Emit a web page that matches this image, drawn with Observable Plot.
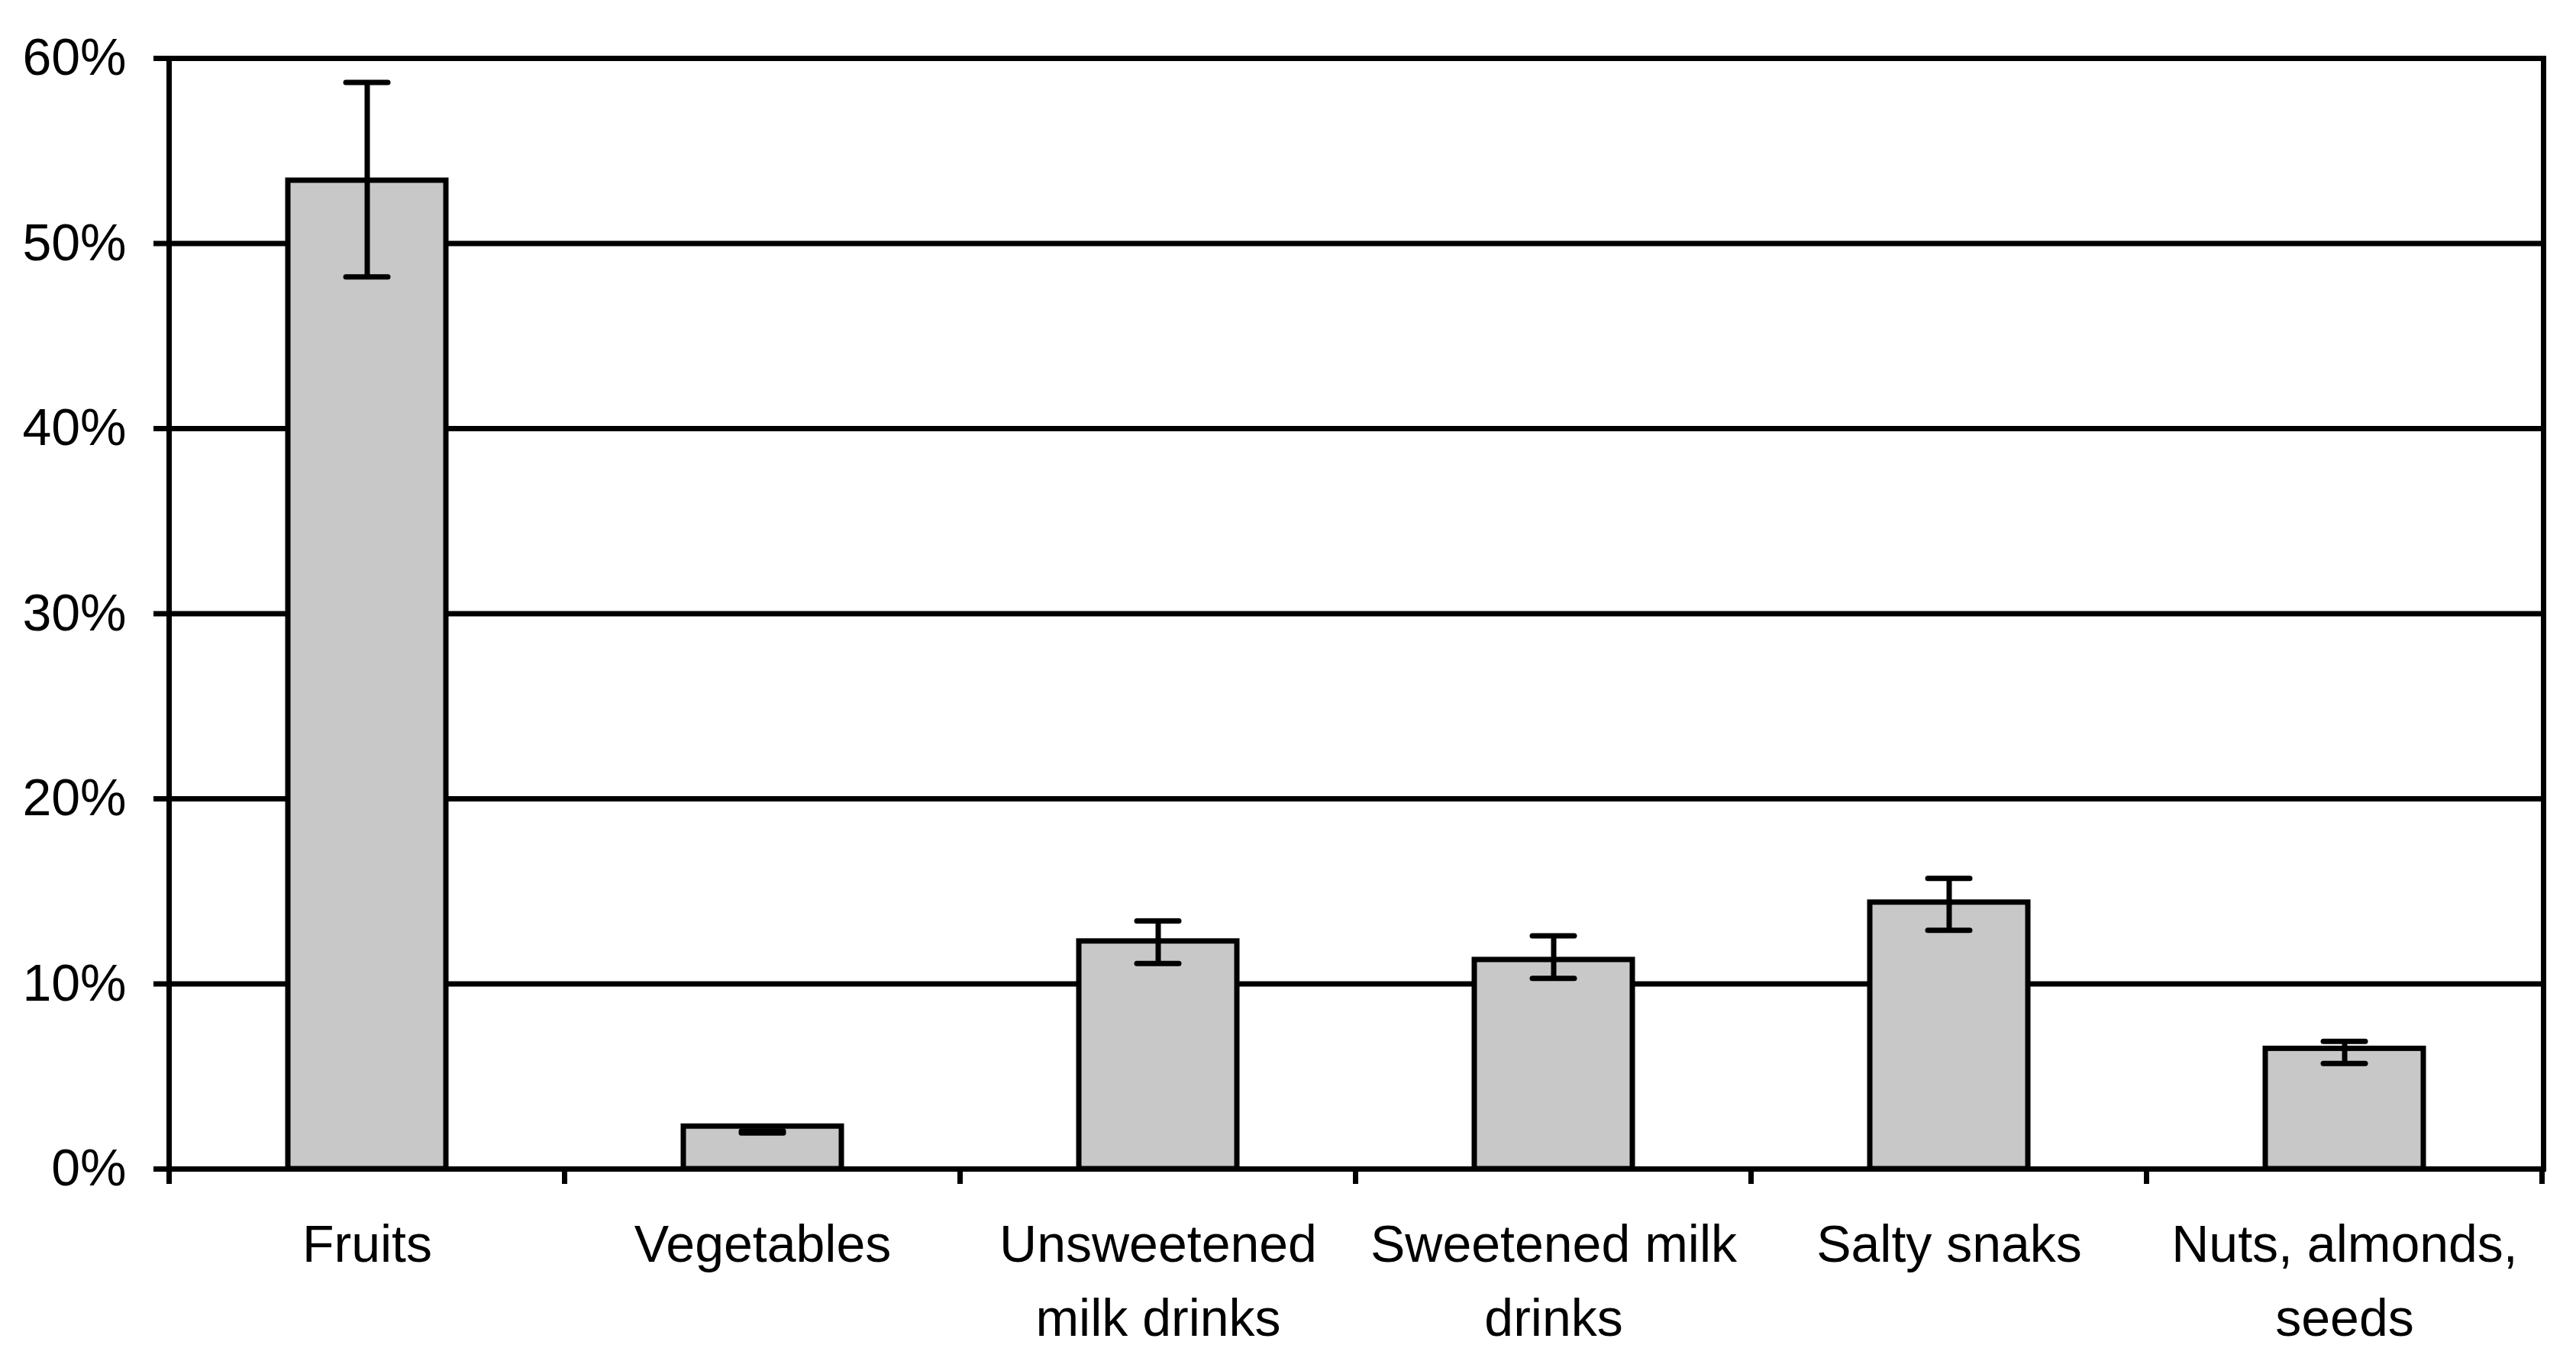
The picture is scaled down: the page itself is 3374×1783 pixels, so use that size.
<!DOCTYPE html>
<html>
<head>
<meta charset="utf-8">
<script src="https://cdn.jsdelivr.net/npm/d3@7"></script>
<script src="https://cdn.jsdelivr.net/npm/@observablehq/plot@0.6"></script>
<style>
  html, body { margin: 0; padding: 0; background: #fff; }
  svg { display: block; font-family: "Liberation Sans", Arial, sans-serif; }
</style>
</head>
<body>
<div id="chart"></div>
<script>
const categories = ["Fruits", "Vegetables", "Unsweetened milk drinks", "Sweetened milk drinks", "Salty snaks", "Nuts, almonds, seeds"];
const labels = ["Fruits", "Vegetables", "Unsweetened\nmilk drinks", "Sweetened milk\ndrinks", "Salty snaks", "Nuts, almonds,\nseeds"];
const values = [0.534, 0.023, 0.123, 0.113, 0.144, 0.065];
const errLow = [0.482, 0.0195, 0.111, 0.103, 0.129, 0.057];
const errHigh = [0.587, 0.0205, 0.134, 0.126, 0.157, 0.069];
const yTicks = [0, 0.1, 0.2, 0.3, 0.4, 0.5, 0.6];

const data = categories.map((c, i) => ({cat: c, label: labels[i], v: values[i], lo: errLow[i], hi: errHigh[i]}));

const SW = 7;

function boundaryTicks(index, scales, values, dims) {
  const x = scales.x;
  const step = x.step();
  const bw = x.bandwidth();
  const gap = (step - bw) / 2;
  const y0 = dims.height - dims.marginBottom;
  const g = d3.create("svg:g");
  const xs = categories.map(c => x(c) - gap);
  xs.push(x(categories[categories.length - 1]) + bw + gap);
  for (const px of xs) {
    g.append("line")
      .attr("x1", px).attr("x2", px)
      .attr("y1", y0).attr("y2", y0 + 20)
      .attr("stroke", "black").attr("stroke-width", SW);
  }
  return g.node();
}

const plot = Plot.plot({
  width: 3374,
  height: 1783,
  marginLeft: 221,
  marginRight: 43,
  marginTop: 76,
  marginBottom: 252,
  style: {fontFamily: "'Liberation Sans', Arial, sans-serif", color: "black", background: "white"},
  x: {type: "band", domain: categories, paddingInner: 0.6, paddingOuter: 0.3, axis: null},
  y: {domain: [0, 0.6], axis: null},
  marks: [
    Plot.ruleY(yTicks, {y: d => d, stroke: "black", strokeWidth: SW}),
    Plot.barY(data, {x: "cat", y: "v", fill: "#c8c8c8", stroke: "black", strokeWidth: SW}),
    Plot.ruleX(data, {x: "cat", y1: "lo", y2: "hi", stroke: "black", strokeWidth: SW}),
    Plot.tickY(data, {x: "cat", y: "hi", stroke: "black", strokeWidth: SW, inset: 76, strokeLinecap: "round"}),
    Plot.tickY(data, {x: "cat", y: "lo", stroke: "black", strokeWidth: SW, inset: 76, strokeLinecap: "round"}),
    Plot.frame({stroke: "black", strokeWidth: SW}),
    Plot.axisY({ticks: yTicks, tickFormat: d3.format(".0%"), tickSize: 20, tickPadding: 36, fontSize: 68, strokeWidth: SW, fill: "black", stroke: "black"}),
    Plot.text(data, {x: "cat", text: "label", frameAnchor: "bottom", lineAnchor: "top", dy: 53, lineHeight: 1.42, fontSize: 68, fill: "black"}),
    boundaryTicks
  ]
});

document.getElementById("chart").appendChild(plot);
</script>
</body>
</html>
